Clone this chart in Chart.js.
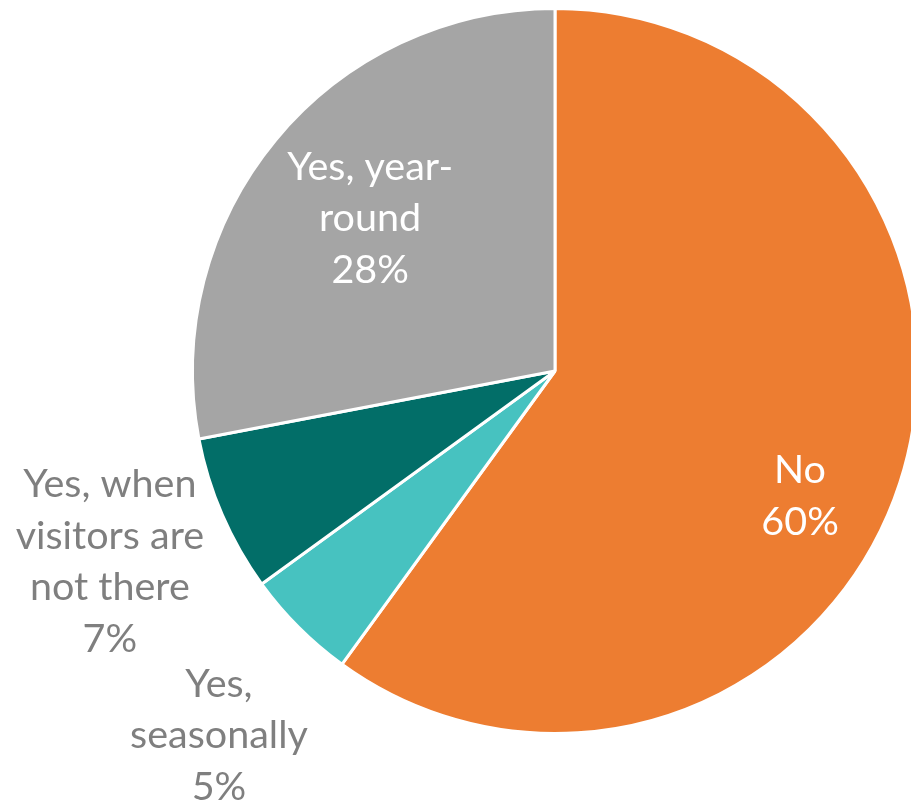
<!DOCTYPE html>
<html>
<head>
<meta charset="utf-8">
<script src="https://cdn.jsdelivr.net/npm/chart.js@4/dist/chart.umd.min.js"></script>
<style>
  html, body { margin: 0; padding: 0; background: #fff; overflow: hidden; width: 911px; height: 804px; }
  #wrap { position: relative; width: 940px; height: 804px; }
</style>
</head>
<body>
<div id="wrap"><canvas id="c" width="940" height="804"></canvas></div>
<script>
const categories = ["No", "Yes, seasonally", "Yes, when visitors are not there", "Yes, year-round"];
const values = [60, 5, 7, 28];
const labelLines = [
  ["No", "60%"],
  ["Yes,", "seasonally", "5%"],
  ["Yes, when", "visitors are", "not there", "7%"],
  ["Yes, year-", "round", "28%"]
];
const sliceColors = ["#ED7D31", "#47C2C0", "#026E68", "#A5A5A5"];
const labelColors = ["#FFFFFF", "#7F7F7F", "#7F7F7F", "#FFFFFF"];
// label anchor (first baseline) relative to pie centre, in units of radius
const labelAnchor = [[0.676, 0.309], [-0.927, 0.899], [-1.228, 0.348], [-0.510, -0.527]];

const FONT_SIZE = 39.5;
const LINE_H = 51.5;

const labelPlugin = {
  id: 'sliceLabels',
  afterDatasetsDraw(chart) {
    const ctx = chart.ctx;
    const meta = chart.getDatasetMeta(0);
    ctx.save();
    ctx.font = FONT_SIZE + 'px Lato';
    ctx.textAlign = 'center';
    ctx.textBaseline = 'alphabetic';
    meta.data.forEach((arc, i) => {
      const p = arc.getProps(['x', 'y', 'outerRadius'], true);
      const x = p.x + labelAnchor[i][0] * p.outerRadius;
      const y0 = p.y + labelAnchor[i][1] * p.outerRadius;
      ctx.fillStyle = labelColors[i];
      labelLines[i].forEach((t, k) => {
        ctx.fillText(t, x, y0 + k * LINE_H);
      });
    });
    ctx.restore();
  }
};

new Chart(document.getElementById('c'), {
  type: 'pie',
  data: {
    labels: categories,
    datasets: [{
      data: values,
      backgroundColor: sliceColors,
      borderColor: '#FFFFFF',
      borderWidth: 3
    }]
  },
  options: {
    responsive: false,
    animation: false,
    layout: { padding: { left: 191, right: 21, top: 7, bottom: 69 } },
    plugins: {
      legend: { display: false },
      tooltip: { enabled: false }
    }
  },
  plugins: [labelPlugin]
});
</script>
</body>
</html>
